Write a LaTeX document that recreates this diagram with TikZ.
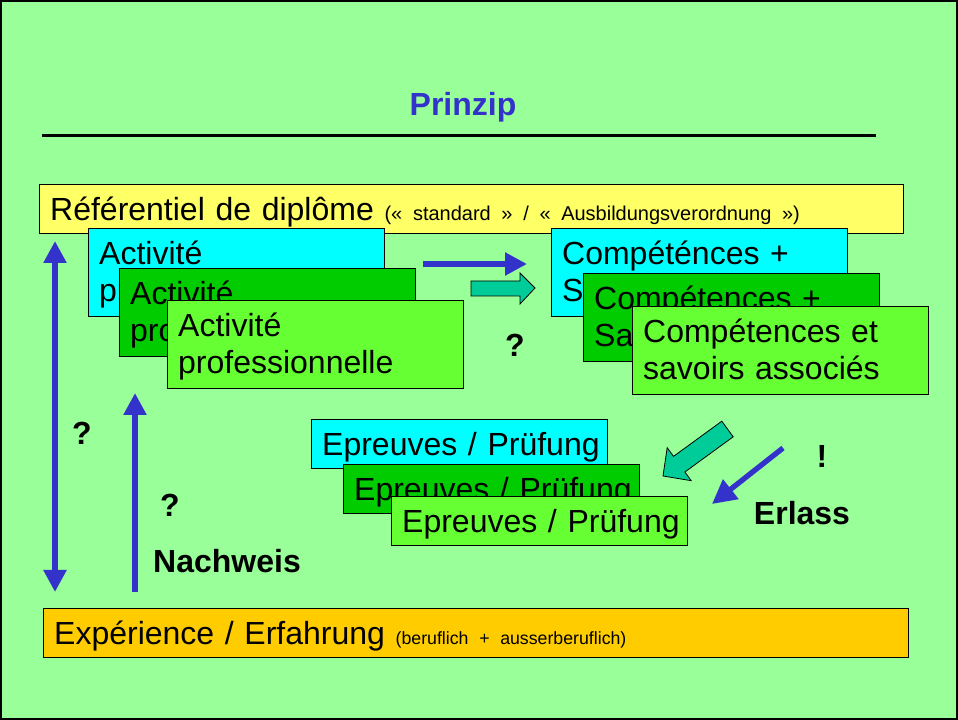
\documentclass[tikz,border=0pt]{standalone}
\usepackage{fontspec}
\setmainfont{Liberation Sans}
\usepackage{tikz}
\usetikzlibrary{positioning,arrows.meta}

\definecolor{bgGreen}{RGB}{153,255,153}
\definecolor{refYellow}{RGB}{255,255,102}
\definecolor{expOrange}{RGB}{255,204,0}
\definecolor{boxCyan}{RGB}{0,255,255}
\definecolor{boxDark}{RGB}{0,204,0}
\definecolor{boxLight}{RGB}{102,255,51}
\definecolor{arrowBlue}{RGB}{51,51,204}
\definecolor{arrowTeal}{RGB}{0,204,153}

\newcommand{\bigtxt}{\fontsize{24}{27.5}\selectfont}
\newcommand{\smalltxt}{\fontsize{15}{18}\selectfont}
\newcommand{\tinytxt}{\fontsize{13.3}{16}\selectfont}

\tikzset{
  card/.style={draw, line width=0.75pt, anchor=north west, align=left, font=\bigtxt,
    inner xsep=8pt, inner ysep=0pt, text width=206pt, minimum width=222pt},
  tallcard/.style={card, minimum height=66pt, text height=18pt, text depth=30pt},
  flatcard/.style={card, minimum height=36.75pt, text height=17.2pt, text depth=0pt},
  bluearrow/.style={draw=arrowBlue, line width=4pt, -{Triangle[width=16.5pt,length=16.5pt]}},
  blockarrow/.style={fill=arrowTeal, draw=black, line width=0.6pt},
  mark text/.style={font=\bigtxt\bfseries}
}

\begin{document}
\begin{tikzpicture}[x=0.75pt,y=0.75pt,yscale=-1,xscale=1]
\useasboundingbox (0,0) rectangle (958,720);
%set diagram left start at 0, and has height of 720

%Shape: Rectangle [background]
\fill[bgGreen] (0,0) rectangle (958,720);
\draw[line width=3pt] (0,0) rectangle (958,720);

% Text Node
\node[font=\bigtxt\bfseries, text=arrowBlue, anchor=base] (title) at (463,116) {Prinzip};
%Shape: Line
\draw[line width=2.25pt] (42,136) -- (876,136);

% Text Node
\node[flatcard, fill=refYellow, text width=632pt, minimum width=648pt] (ref) at (39,184)
  {Référentiel de diplôme {\smalltxt(« standard » /  « Ausbildungsverordnung »)}};

% Text Node
\node[tallcard, fill=boxCyan] (act1) at (88,228) {Activité\\professionnelle};
\node[tallcard, fill=boxDark] (act2) at (119,268) {Activité\\professionnelle};
\node[tallcard, fill=boxLight] (act3) at (167,300) {Activité\\professionnelle};

% Text Node
\node[tallcard, fill=boxCyan] (comp1) at (551,228) {Compéténces +\\Savoirs associés};
\node[tallcard, fill=boxDark] (comp2) at (583,273) {Compétences +\\Savoirs associés};
\node[tallcard, fill=boxLight] (comp3) at (632,306) {Compétences et\\savoirs associés};

% Text Node
\node[flatcard, fill=boxCyan] (epr1) at (311,419) {\mbox{Epreuves / Prüfung}};
\node[flatcard, fill=boxDark] (epr2) at (343,464) {\mbox{Epreuves / Prüfung}};
\node[flatcard, fill=boxLight] (epr3) at (391,496) {\mbox{Epreuves / Prüfung}};

% Text Node
\node[flatcard, fill=expOrange, text width=632.75pt, minimum width=648.75pt] (exp) at (43,608)
  {Expérience / Erfahrung {\tinytxt(beruflich + ausserberuflich)}};

%Shape: Arrows
\coordinate (dblTop) at (55,241);
\coordinate (dblBot) at (55,592);
\coordinate (upBot) at (135,592);
\coordinate (upTop) at (135,393);
\coordinate (hTail) at (423,264);
\coordinate (hTip) at (527,264);
\coordinate (dTail) at (783,448);
\coordinate (dTip) at (712,504);
\draw[bluearrow, {Triangle[width=16.5pt,length=16.5pt]}-{Triangle[width=16.5pt,length=16.5pt]}] (dblTop) -- (dblBot);
\draw[bluearrow] (upBot) -- (upTop);
\draw[bluearrow] (hTail) -- (hTip);
\draw[bluearrow, -{Triangle[width=18pt,length=18pt]}] (dTail) -- (dTip);

%Shape: Block arrows
\draw[blockarrow] (471,281) -- (520,281) -- (520,273) -- (535,288) -- (520,304) -- (520,296) -- (471,296) -- cycle;
\draw[blockarrow] (721.8,421.2) -- (673.5,456.4) -- (667.2,447.7) -- (663,476) -- (691.2,480.7) -- (684.9,472.0) -- (733.2,436.8) -- cycle;

% Text Node
\node[mark text] (q1) at (82,433) {?};
\node[mark text] (q2) at (170,505) {?};
\node[mark text] (q3) at (515,345) {?};
\node[mark text] (nachweis) at (227,561) {Nachweis};
\node[mark text] (bang) at (822,456) {!};
\node[mark text] (erlass) at (802,513) {Erlass};
\end{tikzpicture}
\end{document}
